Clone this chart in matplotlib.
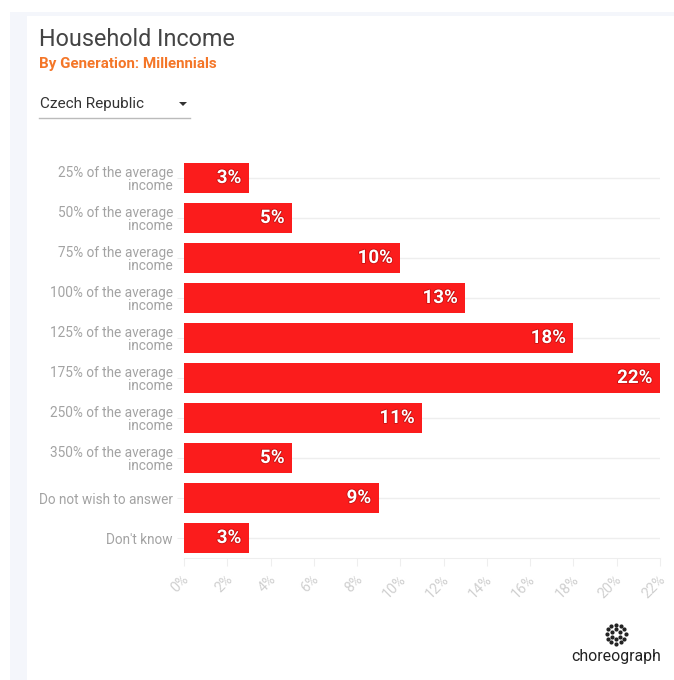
import matplotlib
matplotlib.use("Agg")
import matplotlib.pyplot as plt
import numpy as np
from matplotlib.patches import Rectangle, Polygon
from matplotlib.transforms import ScaledTranslation
import matplotlib.patheffects as pe

plt.rcParams['font.family'] = ['Roboto', 'DejaVu Sans']

categories = ["25% of the average\nincome", "50% of the average\nincome",
              "75% of the average\nincome", "100% of the average\nincome",
              "125% of the average\nincome", "175% of the average\nincome",
              "250% of the average\nincome", "350% of the average\nincome",
              "Do not wish to answer", "Don't know"]
values = [3, 5, 10, 13, 18, 22, 11, 5, 9, 3]
xticks = list(range(0, 23, 2))
xtick_labels = [f"{t}%" for t in xticks]

W, H = 674, 680
fig = plt.figure(figsize=(W / 100, H / 100), dpi=100)
fig.patch.set_facecolor("white")

def fx(px):
    return px / W

def fy(py):
    return 1 - py / H

# background panels
fig.patches.append(Rectangle((fx(10), 0), 1 - fx(10), fy(12), transform=fig.transFigure,
                             facecolor="#f4f6fb", edgecolor="none", zorder=-2))
fig.patches.append(Rectangle((fx(27), 0), 1 - fx(27), fy(16), transform=fig.transFigure,
                             facecolor="white", edgecolor="none", zorder=-1))

# titles
fig.text(fx(39), fy(40), "Household Income", fontsize=16.8, color="#444444",
         va="center", ha="left")
fig.text(fx(39), fy(64), "By Generation: Millennials", fontsize=10.9, color="#f47628",
         fontweight="bold", va="center", ha="left")
fig.text(fx(40), fy(104), "Czech Republic", fontsize=11, color="#333333",
         va="center", ha="left")
fig.patches.append(Polygon([[fx(179), fy(102)], [fx(187), fy(102)], [fx(183), fy(106)]],
                           closed=True, transform=fig.transFigure, facecolor="#333333",
                           edgecolor="none"))
fig.add_artist(plt.Line2D([fx(39), fx(190)], [fy(118), fy(118)], transform=fig.transFigure,
                          color="#bbbbbb", lw=1))

# axes
ax = fig.add_axes([fx(184), fy(558), fx(660) - fx(184), fy(158) - fy(558)])
ax.set_facecolor("none")
y = np.arange(len(categories))
ax.barh(y, values, height=0.75, color="#fb1c1c", zorder=3)
ax.set_xlim(0, 22)
ax.set_ylim(len(categories) - 0.5, -0.5)
ax.set_yticks(y)
ax.set_yticklabels(categories, fontsize=9.8, color="#a3a3a3", linespacing=1.0)
ax.set_xticks(xticks)
ax.set_xticklabels([])
off = ScaledTranslation(3 / 100, -19 / 100, fig.dpi_scale_trans)
for t, lab in zip(xticks, xtick_labels):
    ax.text(t, 0, lab, transform=ax.get_xaxis_transform() + off, rotation=45,
            rotation_mode="anchor", ha="right", va="center", fontsize=10.3,
            color="#d0d0d0", clip_on=False)
for yy in y:
    ax.axhline(yy, color="#eeeeee", lw=1, zorder=1)
for s in ["top", "right", "left"]:
    ax.spines[s].set_visible(False)
ax.spines["bottom"].set_color("#eeeeee")
ax.tick_params(axis="y", length=5, color="#eeeeee", pad=3)
ax.tick_params(axis="x", length=6, color="#eeeeee", pad=0)

for yy, v in zip(y, values):
    ax.annotate(f"{v}%", (v, yy), xytext=(-5.5, 0), textcoords="offset points",
                ha="right", va="center", color="white", fontsize=13.5, fontweight="bold",
                zorder=4,
                path_effects=[pe.withStroke(linewidth=1.2, foreground="#c81010")])

# logo
cx, cy = 616, 634
for r, n, sz in [(9.5, 12, 2.0), (5, 6, 2.0)]:
    for k in range(n):
        a = 2 * np.pi * k / n + (np.pi / n if r == 5 else 0)
        fig.add_artist(plt.Line2D([fx(cx + r * np.cos(a))], [fy(cy + r * np.sin(a))],
                                  transform=fig.transFigure, marker="o", ms=sz,
                                  color="#222222", lw=0))
fig.text(fx(616), fy(656), "choreograph", fontsize=11.4, color="#222222",
         ha="center", va="center")

fig.savefig("out.png", dpi=100)
